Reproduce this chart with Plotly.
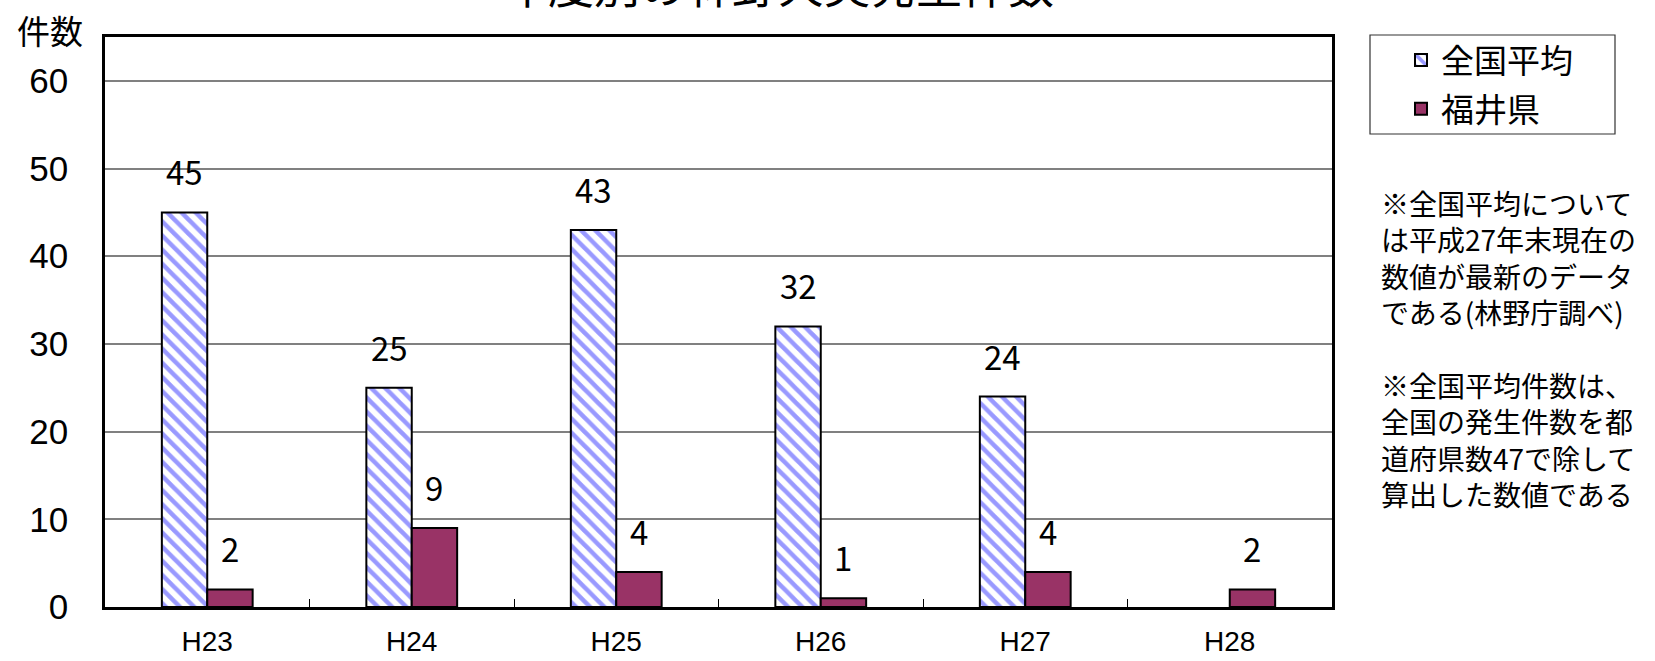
import plotly.graph_objects as go

categories = ["H23", "H24", "H25", "H26", "H27", "H28"]
national_avg = [45, 25, 43, 32, 24, None]
fukui = [2, 9, 4, 1, 4, 2]
series_names = ["全国平均", "福井県"]
title_text = "年度別の林野火災発生件数"
y_title = "件数"
note_text = ("※全国平均について<br>は平成27年末現在の<br>数値が最新のデータ<br>である(林野庁調べ)<br><br>"
             "※全国平均件数は、<br>全国の発生件数を都<br>道府県数47で除して<br>算出した数値である")

FONT = "Noto Sans CJK JP"
W, H = 1655, 661
L, R, T, B = 105, 323, 37, 54
PW, PH = W - L - R, H - T - B


def px_x(x):
    return (x - L) / PW


def px_y(y):
    return (H - B - y) / PH


fig = go.Figure()
fig.add_trace(go.Bar(
    x=categories, y=national_avg, name=series_names[0], legendgroup="a",
    marker=dict(color="white", line=dict(color="black", width=2),
                pattern=dict(shape="\\", fgcolor="#9999FF", bgcolor="white",
                             size=10, solidity=0.45, fillmode="replace")),
))
fig.add_trace(go.Bar(
    x=categories, y=fukui, name=series_names[1], legendgroup="b",
    marker=dict(color="#993366", line=dict(color="black", width=2)),
))

half = 0.111
annotations = []
for i, v in enumerate(national_avg):
    if v is not None:
        annotations.append(dict(x=i - half, y=v, xref="x", yref="y", text=str(v),
                                showarrow=False, yanchor="bottom", yshift=15,
                                font=dict(size=33, color="black", family=FONT)))
for i, v in enumerate(fukui):
    annotations.append(dict(x=i + half, y=v, xref="x", yref="y", text=str(v),
                            showarrow=False, yanchor="bottom", yshift=15,
                            font=dict(size=33, color="black", family=FONT)))

annotations.append(dict(x=px_x(778), y=px_y(-17), xref="paper", yref="paper", text=title_text,
                        showarrow=False, xanchor="center", yanchor="middle",
                        font=dict(size=46, color="black", family=FONT)))
annotations.append(dict(x=px_x(50), y=px_y(30), xref="paper", yref="paper", text=y_title,
                        showarrow=False, xanchor="center", yanchor="middle",
                        font=dict(size=33, color="black", family=FONT)))
annotations.append(dict(x=px_x(1379), y=px_y(181),
                        xref="paper", yref="paper", text=note_text, showarrow=False,
                        xanchor="left", yanchor="top", align="left",
                        font=dict(size=28, color="black", family=FONT)))

shapes = [dict(type="rect", xref="paper", yref="paper",
               x0=px_x(1370), x1=px_x(1615), y0=px_y(134), y1=px_y(35),
               line=dict(color="#333333", width=1.2), fillcolor="rgba(0,0,0,0)")]

fig.update_layout(
    width=W, height=H,
    margin=dict(l=L, r=R, t=T, b=B, autoexpand=False),
    paper_bgcolor="white", plot_bgcolor="white",
    barmode="group", bargap=0.556, bargroupgap=0,
    font=dict(family=FONT, color="black"),
    showlegend=True,
    legend=dict(xref="container", yref="container",
                x=1401 / W, y=1 - 32 / H,
                xanchor="left", yanchor="top",
                borderwidth=0, bgcolor="rgba(0,0,0,0)",
                font=dict(size=33, family=FONT), tracegroupgap=3),
    annotations=annotations,
    shapes=shapes,
)
fig.update_xaxes(
    type="category", showline=True, linecolor="black", linewidth=2.5, mirror=True,
    ticks="inside", ticklen=8, tickcolor="black", tickwidth=1, tickson="boundaries",
    tickfont=dict(size=28, family="Liberation Sans Narrow, Liberation Sans"),
    ticklabelstandoff=8, showgrid=False, automargin=False,
)
fig.update_yaxes(
    range=[0, 65], tickvals=[0, 10, 20, 30, 40, 50, 60],
    showline=True, linecolor="black", linewidth=2.5, mirror=True,
    showgrid=True, gridcolor="#808080", gridwidth=1.5,
    ticks="", tickfont=dict(size=35, family="Liberation Sans"),
    ticklabelstandoff=27, zeroline=False, automargin=False,
)

fig.write_html("out.html", config={"displayModeBar": False},
               post_script="document.body.style.margin='0';document.body.style.overflow='hidden';")
